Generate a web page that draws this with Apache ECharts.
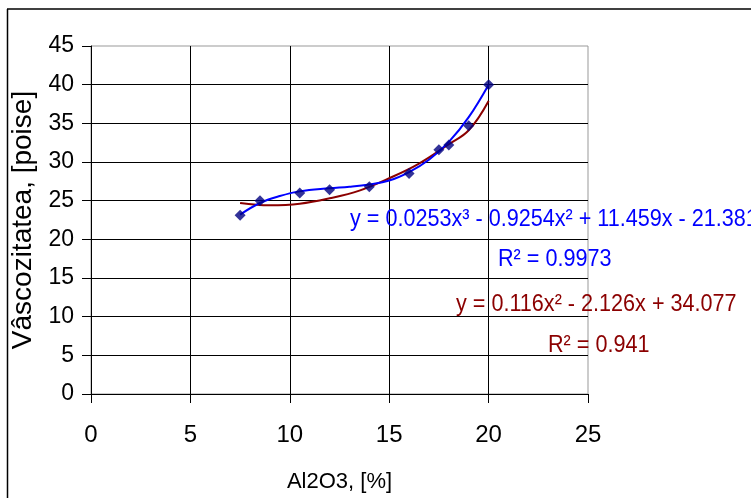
<!DOCTYPE html>
<html><head><meta charset="utf-8">
<script src="https://cdn.jsdelivr.net/npm/echarts@6/dist/echarts.min.js"></script>
<style>html,body{margin:0;padding:0;background:#fff}#c{width:751px;height:498px}</style>
</head><body><div id="c"></div>
<script>
// Measured data (Al2O3 %, viscosity poise)
const al2o3 = [7.5, 8.5, 10.5, 12, 14, 16, 17.5, 18, 19, 20];
const viscosity = [23.1, 25.0, 26.0, 26.4, 26.8, 28.5, 31.6, 32.2, 34.7, 40.0];
// Trendline points
const polyX = [7.5, 8.5, 9.5, 10.5, 12, 13, 14, 15, 16, 17, 18, 19, 20];
const polyY = [23.2, 24.7, 25.6, 26.2, 26.6, 26.8, 27.1, 27.6, 28.7, 30.3, 32.6, 35.8, 40.0];
const quadX = [7.5, 9, 10.5, 12, 13.5, 15, 16.5, 18, 19, 20];
const quadY = [24.7, 24.4, 24.6, 25.3, 26.3, 27.9, 29.8, 32.3, 34.1, 37.9];
const xTicks = [0, 5, 10, 15, 20, 25];
const yTicks = [0, 5, 10, 15, 20, 25, 30, 35, 40, 45];
const eqPoly = 'y = 0.0253x³ - 0.9254x² + 11.459x - 21.381';
const r2Poly = 'R² = 0.9973';
const eqQuad = 'y = 0.116x² - 2.126x + 34.077';
const r2Quad = 'R² = 0.941';

const zip = (a, b) => a.map((v, i) => [v, b[i]]);
const chart = echarts.init(document.getElementById('c'));
const F = 'Liberation Sans, Arial, sans-serif';
chart.setOption({
  animation: false,
  grid: { left: 91, right: 163, top: 46, bottom: 104, show: true, borderColor: '#999', borderWidth: 1 },
  xAxis: {
    type: 'value', min: 0, max: 25, interval: 5,
    name: 'Al2O3, [%]', nameLocation: 'middle', nameGap: 77,
    nameTextStyle: { fontFamily: F, fontSize: 22, color: '#000' },
    axisLine: { lineStyle: { color: '#000', width: 1 } },
    axisTick: { show: true, length: 9, lineStyle: { color: '#000' } },
    axisLabel: { fontFamily: F, fontSize: 24, color: '#000', margin: 29, formatter: v => xTicks.includes(v) ? String(v) : '' },
    splitLine: { show: true, showMaxLine: false, lineStyle: { color: '#000', width: 1 } }
  },
  yAxis: {
    type: 'value', min: 0, max: 45, interval: 5,
    name: 'Vâscozitatea, [poise]', nameLocation: 'middle', nameGap: 48,
    nameTextStyle: { fontFamily: F, fontSize: 28, color: '#000' },
    axisLine: { show: true, lineStyle: { color: '#000', width: 1 } },
    axisTick: { show: true, length: 9, lineStyle: { color: '#000' } },
    axisLabel: { fontFamily: F, fontSize: 23, color: '#000', margin: 17, formatter: v => yTicks.includes(v) ? String(v) : '' },
    splitLine: { show: true, showMaxLine: false, lineStyle: { color: '#000', width: 1 } }
  },
  series: [
    { type: 'line', data: zip(quadX, quadY), smooth: 0.4, showSymbol: false, lineStyle: { color: '#8B0000', width: 2 }, z: 2 },
    { type: 'line', data: zip(polyX, polyY), smooth: 0.4, showSymbol: false, lineStyle: { color: '#0000FF', width: 2 }, z: 3 },
    { type: 'scatter', data: zip(al2o3, viscosity), symbol: 'diamond', symbolSize: 11, itemStyle: { color: '#000080' }, z: 4 }
  ],
  graphic: [
    { type: 'line', shape: { x1: 7.5, y1: 9, x2: 7.5, y2: 498 }, style: { stroke: '#000', lineWidth: 1.5 } },
    { type: 'line', shape: { x1: 7, y1: 9, x2: 751, y2: 9 }, style: { stroke: '#000', lineWidth: 1.5 } },
    { type: 'text', x: 350, y: 219, scaleX: 0.9, z: 10, style: { text: eqPoly, font: '24px ' + F, fill: '#0000FF', verticalAlign: 'middle' } },
    { type: 'text', x: 498, y: 259, scaleX: 0.9, z: 10, style: { text: r2Poly, font: '24px ' + F, fill: '#0000FF', verticalAlign: 'middle' } },
    { type: 'text', x: 456, y: 304, scaleX: 0.9, z: 10, style: { text: eqQuad, font: '24px ' + F, fill: '#8B0000', verticalAlign: 'middle' } },
    { type: 'text', x: 548, y: 345, scaleX: 0.9, z: 10, style: { text: r2Quad, font: '24px ' + F, fill: '#8B0000', verticalAlign: 'middle' } }
  ]
});
</script></body></html>
